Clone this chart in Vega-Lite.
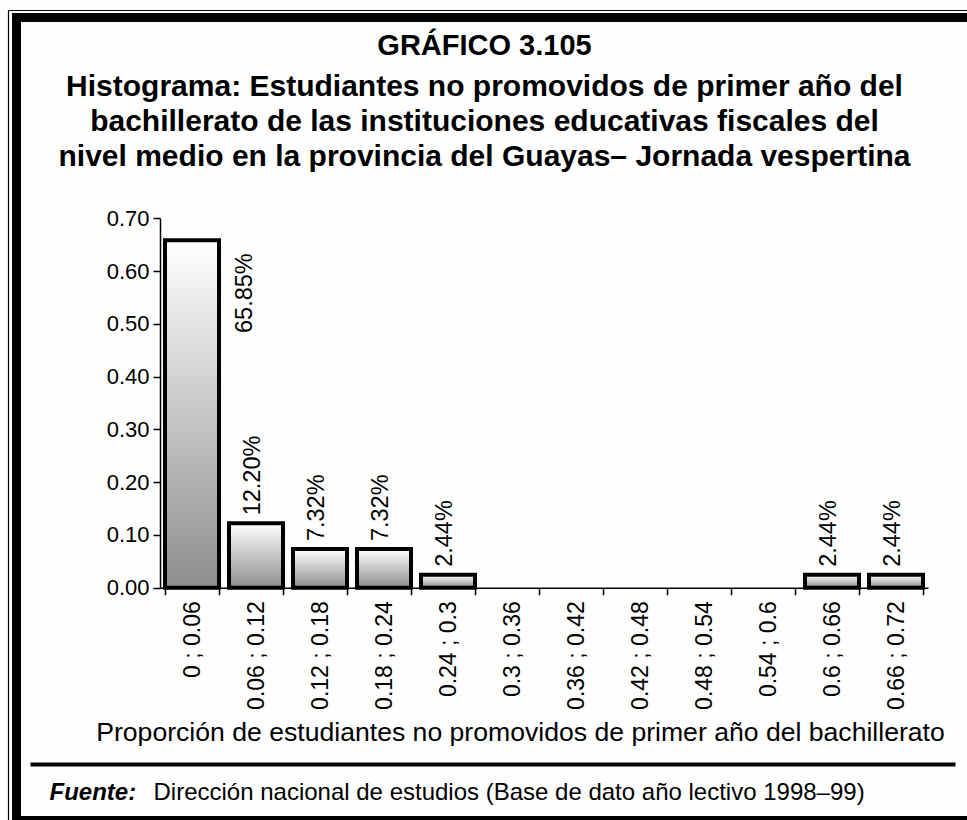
{
  "$schema": "https://vega.github.io/schema/vega-lite/v6.json",
  "autosize": "none",
  "width": 951,
  "height": 803,
  "padding": {"left": 16, "top": 17, "right": 0, "bottom": 0},
  "background": "#fefefe",
  "title": {
    "text": "GRÁFICO 3.105",
    "subtitle": [
      "Histograma: Estudiantes no promovidos de primer año del",
      "bachillerato de  las instituciones educativas fiscales del",
      "nivel medio en la provincia del Guayas– Jornada vespertina"
    ],
    "anchor": "middle",
    "frame": "group",
    "offset": -165,
    "dx": -7,
    "font": "Liberation Sans",
    "fontSize": 29,
    "fontWeight": "bold",
    "color": "black",
    "subtitleFont": "Liberation Sans",
    "subtitleFontSize": 30,
    "subtitleFontWeight": "bold",
    "subtitleColor": "black",
    "subtitleLineHeight": 35,
    "subtitlePadding": 11
  },
  "datasets": {
    "hist": [
      {"intervalo": "0 ; 0.06", "proporcion": 0.6585},
      {"intervalo": "0.06 ; 0.12", "proporcion": 0.122},
      {"intervalo": "0.12 ; 0.18", "proporcion": 0.0732},
      {"intervalo": "0.18 ; 0.24", "proporcion": 0.0732},
      {"intervalo": "0.24 ; 0.3", "proporcion": 0.0244},
      {"intervalo": "0.3 ; 0.36", "proporcion": 0},
      {"intervalo": "0.36 ; 0.42", "proporcion": 0},
      {"intervalo": "0.42 ; 0.48", "proporcion": 0},
      {"intervalo": "0.48 ; 0.54", "proporcion": 0},
      {"intervalo": "0.54 ; 0.6", "proporcion": 0},
      {"intervalo": "0.6 ; 0.66", "proporcion": 0.0244},
      {"intervalo": "0.66 ; 0.72", "proporcion": 0.0244}
    ],
    "marco": [{"t": 0}, {"t": 1}]
  },
  "layer": [
    {
      "data": {"name": "hist"},
      "layer": [
        {
          "transform": [{"filter": "datum.proporcion > 0"}],
          "mark": {
            "type": "bar",
            "stroke": "black",
            "strokeWidth": 4,
            "color": {
              "gradient": "linear",
              "x1": 0, "y1": 0, "x2": 0, "y2": 1,
              "stops": [
                {"offset": 0, "color": "#ffffff"},
                {"offset": 1, "color": "#8e8e8e"}
              ]
            }
          },
          "encoding": {
            "x": {
              "field": "intervalo",
              "type": "nominal",
              "sort": null,
              "scale": {
                "type": "band",
                "domain": ["0 ; 0.06", "0.06 ; 0.12", "0.12 ; 0.18", "0.18 ; 0.24", "0.24 ; 0.3", "0.3 ; 0.36", "0.36 ; 0.42", "0.42 ; 0.48", "0.48 ; 0.54", "0.54 ; 0.6", "0.6 ; 0.66", "0.66 ; 0.72"],
                "range": [144, 912],
                "paddingInner": 0.156,
                "paddingOuter": 0.078
              },
              "axis": {
                "orient": "bottom",
                "offset": -232.3,
                "tickBand": "extent",
                "grid": false,
                "domainColor": "black",
                "domainWidth": 1.5,
                "tickColor": "black",
                "tickWidth": 1.5,
                "tickSize": 7,
                "labelAngle": -90,
                "labelFontSize": 23,
                "labelColor": "black",
                "labelPadding": 6,
                "title": "Proporción de estudiantes no promovidos de primer año del bachillerato",
                "titleFontSize": 26.6,
                "titleFontWeight": "normal",
                "titleColor": "black",
                "titleX": 504,
                "titleY": 145,
                "titleAlign": "center",
                "titleBaseline": "middle"
              }
            },
            "y": {
              "field": "proporcion",
              "type": "quantitative",
              "scale": {"domain": [0, 0.7], "range": [570.7, 201.3], "nice": false, "zero": true},
              "axis": {
                "orient": "left",
                "offset": -144,
                "values": [0, 0.1, 0.2, 0.3, 0.4, 0.5, 0.6, 0.7],
                "format": ".2f",
                "grid": false,
                "domainColor": "black",
                "domainWidth": 1.5,
                "tickColor": "black",
                "tickWidth": 1.5,
                "tickSize": 7,
                "labelFontSize": 22,
                "labelColor": "black",
                "labelPadding": 4,
                "title": null
              }
            }
          }
        },
        {
          "transform": [{"filter": "datum.proporcion > 0 && datum.proporcion < 0.5"}],
          "mark": {
            "type": "text",
            "angle": -90,
            "align": "left",
            "baseline": "middle",
            "dx": 8,
            "dy": -3,
            "font": "Liberation Sans",
            "fontSize": 23.5,
            "color": "black"
          },
          "encoding": {
            "x": {"field": "intervalo", "type": "nominal", "sort": null},
            "y": {"field": "proporcion", "type": "quantitative"},
            "text": {"field": "proporcion", "type": "quantitative", "format": ".2%"}
          }
        },
        {
          "transform": [{"filter": "datum.proporcion >= 0.5"}],
          "mark": {
            "type": "text",
            "angle": -90,
            "align": "left",
            "baseline": "middle",
            "dx": -92.8,
            "dy": 52.6,
            "font": "Liberation Sans",
            "fontSize": 23.5,
            "color": "black"
          },
          "encoding": {
            "x": {"field": "intervalo", "type": "nominal", "sort": null},
            "y": {"field": "proporcion", "type": "quantitative"},
            "text": {"field": "proporcion", "type": "quantitative", "format": ".2%"}
          }
        }
      ]
    },
    {
      "data": {"name": "marco"},
      "mark": {"type": "point", "opacity": 0},
      "encoding": {
        "x": {
          "field": "t",
          "type": "quantitative",
          "scale": {"domain": [0, 1], "range": [14, 939], "nice": false, "zero": false},
          "axis": {
            "orient": "bottom",
            "offset": -56,
            "domain": true,
            "domainColor": "black",
            "domainWidth": 4,
            "ticks": false,
            "labels": false,
            "grid": false,
            "title": "Dirección nacional de estudios (Base de dato año lectivo 1998–99)",
            "titleFontSize": 24,
            "titleFontWeight": "normal",
            "titleColor": "black",
            "titleX": 137,
            "titleY": 35,
            "titleAlign": "left",
            "titleBaseline": "alphabetic"
          }
        },
        "y": {
          "field": "t",
          "type": "quantitative",
          "scale": {"domain": [0, 1], "range": [803, -7], "nice": false, "zero": false},
          "axis": {
            "orient": "left",
            "offset": 8,
            "domain": true,
            "domainColor": "black",
            "domainWidth": 1.2,
            "ticks": false,
            "labels": false,
            "grid": false,
            "title": "Fuente:",
            "titleAngle": 0,
            "titleFontSize": 24,
            "titleFontWeight": "bold",
            "titleFontStyle": "italic",
            "titleColor": "black",
            "titleX": 41,
            "titleY": 782,
            "titleAlign": "left",
            "titleBaseline": "alphabetic"
          }
        }
      }
    },
    {
      "data": {"name": "marco"},
      "mark": {"type": "point", "opacity": 0},
      "encoding": {
        "x": {
          "field": "t",
          "type": "quantitative",
          "scale": {"domain": [0, 1], "range": [-8, 960], "nice": false, "zero": false},
          "axis": {
            "orient": "top",
            "offset": 7,
            "domain": true,
            "domainColor": "black",
            "domainWidth": 1.2,
            "ticks": false,
            "labels": false,
            "grid": false,
            "title": null
          }
        },
        "y": {
          "field": "t",
          "type": "quantitative",
          "scale": {"domain": [0, 1], "range": [810, -4.5], "nice": false, "zero": false},
          "axis": {
            "orient": "left",
            "offset": 0,
            "domain": true,
            "domainColor": "black",
            "domainWidth": 9,
            "ticks": false,
            "labels": false,
            "grid": false,
            "title": null
          }
        }
      }
    },
    {
      "data": {"name": "marco"},
      "mark": {"type": "point", "opacity": 0},
      "encoding": {
        "x": {
          "field": "t",
          "type": "quantitative",
          "scale": {"domain": [0, 1], "range": [-4.5, 960], "nice": false, "zero": false},
          "axis": {
            "orient": "top",
            "offset": 0,
            "domain": true,
            "domainColor": "black",
            "domainWidth": 9,
            "ticks": false,
            "labels": false,
            "grid": false,
            "title": null
          }
        }
      }
    },
    {
      "data": {"name": "marco"},
      "mark": {"type": "point", "opacity": 0},
      "encoding": {
        "x": {
          "field": "t",
          "type": "quantitative",
          "scale": {"domain": [0, 1], "range": [-4.5, 960], "nice": false, "zero": false},
          "axis": {
            "orient": "bottom",
            "offset": 0,
            "domain": true,
            "domainColor": "black",
            "domainWidth": 9,
            "ticks": false,
            "labels": false,
            "grid": false,
            "title": null
          }
        }
      }
    }
  ],
  "resolve": {
    "scale": {"x": "independent", "y": "independent"},
    "axis": {"x": "independent", "y": "independent"}
  },
  "config": {
    "font": "Liberation Sans",
    "view": {"stroke": null, "fill": "#fefefe"},
    "axis": {"labelFont": "Liberation Sans", "titleFont": "Liberation Sans"}
  }
}
